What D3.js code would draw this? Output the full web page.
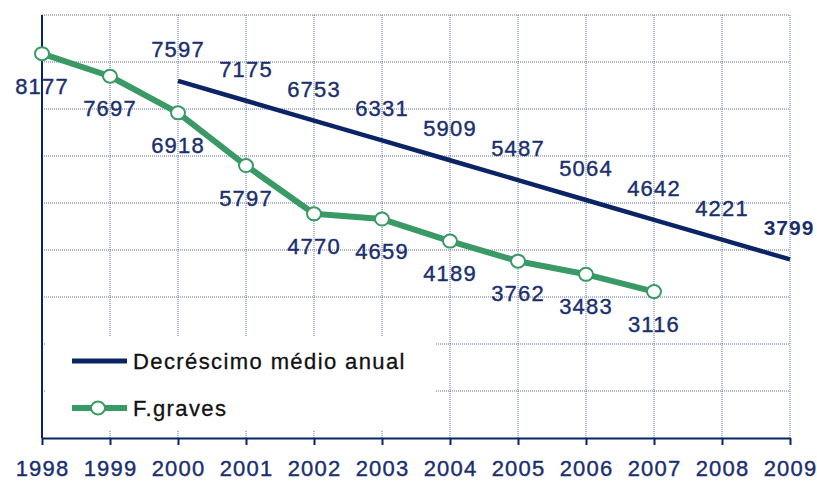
<!DOCTYPE html>
<html>
<head>
<meta charset="utf-8">
<script src="https://cdn.jsdelivr.net/npm/d3@7"></script>
<style>
    body { margin: 0; background: #fff; }
    svg { display: block; font-family: "Liberation Sans", Arial, sans-serif; }
</style>
</head>
<body>
<svg id="chart" width="817" height="481"></svg>
<script>
// data
const years = [1998, 1999, 2000, 2001, 2002, 2003, 2004, 2005, 2006, 2007, 2008, 2009];
const gravesYears = [1998, 1999, 2000, 2001, 2002, 2003, 2004, 2005, 2006, 2007];
const graves = [8177, 7697, 6918, 5797, 4770, 4659, 4189, 3762, 3483, 3116];
const trendYears = [2000, 2001, 2002, 2003, 2004, 2005, 2006, 2007, 2008, 2009];
const trend = [7597, 7175, 6753, 6331, 5909, 5487, 5064, 4642, 4221, 3799];
const yGrid = [1000, 2000, 3000, 4000, 5000, 6000, 7000, 8000, 9000];
const legendLabels = ['Decréscimo médio anual', 'F.graves'];

const navy = '#0b2466';
const green = '#3a9a66';
const labelColor = '#1b2f6e';
const gridColor = '#5d6fa6';

const svg = d3.select('#chart');
const x = d3.scaleLinear().domain([1998, 2009]).range([42, 790]);
const y = d3.scaleLinear().domain([0, 9000]).range([438, 15]);

// grid
svg.append('g')
    .selectAll('line')
    .data(yGrid)
    .join('line')
    .attr('x1', x(1998)).attr('x2', x(2009))
    .attr('y1', d => y(d)).attr('y2', d => y(d))
    .attr('stroke', gridColor).attr('stroke-width', 1)
    .attr('stroke-dasharray', '1,1');

svg.append('g')
    .selectAll('line')
    .data(years.slice(1))
    .join('line')
    .attr('x1', d => x(d)).attr('x2', d => x(d))
    .attr('y1', y(0)).attr('y2', y(9000))
    .attr('stroke', gridColor).attr('stroke-width', 1)
    .attr('stroke-dasharray', '1,1');

// legend box hides the grid behind it
svg.append('rect')
    .attr('x', 45).attr('y', 336)
    .attr('width', 390).attr('height', 94)
    .attr('fill', '#fff');

// axes
const xAxis = d3.axisBottom(x)
    .tickValues(years)
    .tickFormat(d3.format('d'))
    .tickSize(7)
    .tickSizeOuter(0);

const gx = svg.append('g')
    .attr('transform', `translate(0,${y(0)})`)
    .call(xAxis);
gx.select('.domain').attr('stroke', navy).attr('stroke-width', 2);
gx.selectAll('.tick line').attr('stroke', navy).attr('stroke-width', 2);
gx.selectAll('.tick text')
    .attr('y', 38).attr('dy', null)
    .attr('fill', labelColor)
    .attr('stroke', labelColor).attr('stroke-width', 0.4)
    .style('font-size', '22px')
    .style('letter-spacing', '1.2px');

svg.append('line')
    .attr('x1', x(1998)).attr('x2', x(1998))
    .attr('y1', y(0)).attr('y2', y(9000))
    .attr('stroke', navy).attr('stroke-width', 2);

// trend line
const trendPts = trendYears.map((yr, i) => [yr, trend[i]]);
const line = d3.line().x(d => x(d[0])).y(d => y(d[1]));

svg.append('path')
    .datum(trendPts)
    .attr('d', line)
    .attr('fill', 'none')
    .attr('stroke', navy)
    .attr('stroke-width', 4.5);

// F.graves line
const gravesPts = gravesYears.map((yr, i) => [yr, graves[i]]);
svg.append('path')
    .datum(gravesPts)
    .attr('d', line)
    .attr('fill', 'none')
    .attr('stroke', green)
    .attr('stroke-width', 6)
    .attr('stroke-linejoin', 'round');

svg.append('g')
    .selectAll('ellipse')
    .data(gravesPts)
    .join('ellipse')
    .attr('cx', d => x(d[0])).attr('cy', d => y(d[1]))
    .attr('rx', 7).attr('ry', 6.5)
    .attr('fill', '#fff')
    .attr('stroke', green).attr('stroke-width', 2);

// value labels
svg.append('g')
    .selectAll('text')
    .data(gravesPts)
    .join('text')
    .attr('x', d => x(d[0]))
    .attr('y', d => y(d[1]) + 40)
    .attr('text-anchor', 'middle')
    .attr('fill', labelColor)
    .attr('stroke', labelColor).attr('stroke-width', 0.4)
    .style('font-size', '22px')
    .style('letter-spacing', '1.2px')
    .text(d => d[1]);

const last = trendPts.length - 1;
svg.append('g')
    .selectAll('text')
    .data(trendPts)
    .join('text')
    .attr('x', (d, i) => x(d[0]) + (i === last ? -1 : 0))
    .attr('y', d => y(d[1]) - 24)
    .attr('text-anchor', 'middle')
    .attr('fill', labelColor)
    .attr('stroke', labelColor).attr('stroke-width', (d, i) => i === last ? 0 : 0.4)
    .style('font-size', (d, i) => i === last ? '21px' : '22px')
    .style('font-weight', (d, i) => i === last ? 'bold' : 'normal')
    .style('letter-spacing', (d, i) => i === last ? '1px' : '1.2px')
    .text(d => d[1]);

// legend
const legend = svg.append('g');
const rows = [
    { label: legendLabels[0], color: navy, width: 5, marker: false, cy: 361 },
    { label: legendLabels[1], color: green, width: 6, marker: true, cy: 408 },
];
rows.forEach(r => {
    legend.append('line')
        .attr('x1', 72).attr('x2', 127)
        .attr('y1', r.cy).attr('y2', r.cy)
        .attr('stroke', r.color).attr('stroke-width', r.width);
    if (r.marker) {
        legend.append('ellipse')
            .attr('cx', 98).attr('cy', r.cy)
            .attr('rx', 7).attr('ry', 6.5)
            .attr('fill', '#fff')
            .attr('stroke', r.color).attr('stroke-width', 2);
    }
    legend.append('text')
        .attr('x', 133).attr('y', r.cy + 8)
        .attr('fill', '#111')
        .attr('stroke', '#111').attr('stroke-width', 0.3)
        .style('font-size', '22px')
        .style('letter-spacing', '1.4px')
        .text(r.label);
});
</script>
</body>
</html>
